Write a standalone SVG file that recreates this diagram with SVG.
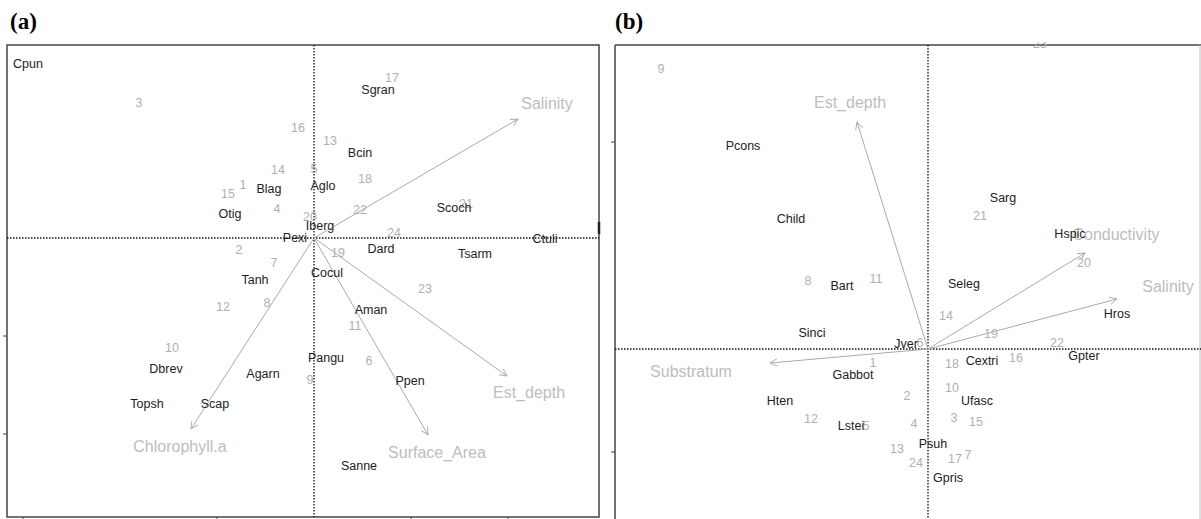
<svg xmlns="http://www.w3.org/2000/svg" width="1201" height="519" viewBox="0 0 1201 519">
<style>
.sp{font-family:"Liberation Sans",Arial,sans-serif;font-size:12.5px;fill:#222;text-anchor:middle}
.st{font-family:"Liberation Sans",Arial,sans-serif;font-size:12.5px;fill:#b0b0b0;text-anchor:middle}
.vr{font-family:"Liberation Sans",Arial,sans-serif;font-size:16px;fill:#bdbdbd;text-anchor:middle}
.pl{font-family:"Liberation Serif","Times New Roman",serif;font-size:23px;font-weight:bold;fill:#000}
.frame{fill:none;stroke:#444;stroke-width:1.5}
.dot{stroke:#111;stroke-width:1.3;stroke-dasharray:1.5 1.5;fill:none}
.arr{stroke:#aaa;stroke-width:1;fill:none;marker-end:url(#ah)}
.tick{stroke:#444;stroke-width:1}
</style>
<defs>
<marker id="ah" viewBox="0 0 10 10" refX="9" refY="5" markerWidth="9" markerHeight="9" markerUnits="userSpaceOnUse" orient="auto">
<path d="M1,1 L9,5 L1,9" fill="none" stroke="#aaa" stroke-width="1"/>
</marker>
<clipPath id="cb"><rect x="615" y="42" width="586" height="477"/></clipPath>
</defs>
<rect width="1201" height="519" fill="#fff"/>

<text class="pl" x="10" y="29">(a)</text>
<text class="pl" x="615" y="29">(b)</text>

<!-- Panel a frame & axes -->
<g id="frame-a">
<rect class="frame" x="7" y="45" width="592" height="472"/>
<line class="dot" x1="314" y1="45" x2="314" y2="517"/>
<line class="dot" x1="7" y1="238" x2="599" y2="238"/>
<line class="tick" x1="3" y1="336" x2="7" y2="336"/>
<line class="tick" x1="3" y1="434" x2="7" y2="434"/>
<line class="tick" x1="23" y1="517" x2="23" y2="519"/>
<line class="tick" x1="217" y1="517" x2="217" y2="519"/>
<line class="tick" x1="411" y1="517" x2="411" y2="519"/>
<line class="tick" x1="508" y1="517" x2="508" y2="519"/>
<line x1="599" y1="222" x2="599" y2="234" stroke="#222" stroke-width="2.5"/>
</g>

<!-- Panel b frame & axes -->
<g id="frame-b">
<line class="frame" x1="615" y1="45" x2="1201" y2="45"/>
<line class="frame" x1="615" y1="45" x2="615" y2="519"/>
<line x1="1200" y1="45" x2="1200" y2="519" stroke="#bbb" stroke-width="1"/>
<line class="dot" x1="928" y1="45" x2="928" y2="519"/>
<line class="dot" x1="615" y1="349" x2="1201" y2="349"/>
<line class="tick" x1="611" y1="142" x2="615" y2="142"/>
<line class="tick" x1="611" y1="452" x2="615" y2="452"/>
</g>

<g id="connectors">
<line class="arr" x1="314" y1="238" x2="518" y2="119"/>
<line class="arr" x1="314" y1="238" x2="507" y2="376"/>
<line class="arr" x1="314" y1="238" x2="428" y2="435"/>
<line class="arr" x1="314" y1="238" x2="191" y2="429"/>
<line class="arr" x1="928" y1="349" x2="857" y2="122"/>
<line class="arr" x1="928" y1="349" x2="1085" y2="253"/>
<line class="arr" x1="928" y1="349" x2="1117" y2="299"/>
<line class="arr" x1="928" y1="349" x2="770" y2="363"/>
</g>

<!-- Panel a variables -->
<g id="a-var-salinity"><text class="vr" x="547" y="109">Salinity</text></g>
<g id="a-var-estdepth"><text class="vr" x="529" y="398">Est_depth</text></g>
<g id="a-var-surface"><text class="vr" x="437" y="458">Surface_Area</text></g>
<g id="a-var-chl"><text class="vr" x="180" y="452">Chlorophyll.a</text></g>

<!-- Panel a sites -->
<g id="a-s3"><text class="st" x="139" y="107">3</text></g>
<g id="a-s16"><text class="st" x="298" y="132">16</text></g>
<g id="a-s14"><text class="st" x="278" y="174">14</text></g>
<g id="a-s5"><text class="st" x="314" y="173">5</text></g>
<g id="a-s17"><text class="st" x="392" y="82">17</text></g>
<g id="a-s13"><text class="st" x="330" y="145">13</text></g>
<g id="a-s18"><text class="st" x="365" y="183">18</text></g>
<g id="a-s1"><text class="st" x="243" y="189">1</text></g>
<g id="a-s15"><text class="st" x="228" y="198">15</text></g>
<g id="a-s4"><text class="st" x="277" y="213">4</text></g>
<g id="a-s22"><text class="st" x="360" y="214">22</text></g>
<g id="a-s21"><text class="st" x="466" y="208">21</text></g>
<g id="a-s20"><text class="st" x="310" y="221">20</text></g>
<g id="a-s24"><text class="st" x="394" y="237">24</text></g>
<g id="a-s2"><text class="st" x="239" y="254">2</text></g>
<g id="a-s19"><text class="st" x="338" y="257">19</text></g>
<g id="a-s7"><text class="st" x="274" y="267">7</text></g>
<g id="a-s23"><text class="st" x="425" y="293">23</text></g>
<g id="a-s8"><text class="st" x="267" y="307">8</text></g>
<g id="a-s12"><text class="st" x="223" y="311">12</text></g>
<g id="a-s11"><text class="st" x="355" y="330">11</text></g>
<g id="a-s10"><text class="st" x="172" y="352">10</text></g>
<g id="a-s6"><text class="st" x="369" y="365">6</text></g>
<g id="a-s9"><text class="st" x="310" y="384">9</text></g>

<!-- Panel a species -->
<g id="a-cpun"><text class="sp" x="28" y="68">Cpun</text></g>
<g id="a-sgran"><text class="sp" x="378" y="94">Sgran</text></g>
<g id="a-bcin"><text class="sp" x="360" y="157">Bcin</text></g>
<g id="a-blag"><text class="sp" x="269" y="193">Blag</text></g>
<g id="a-aglo"><text class="sp" x="323" y="190">Aglo</text></g>
<g id="a-otig"><text class="sp" x="230" y="218">Otig</text></g>
<g id="a-scoch"><text class="sp" x="454" y="212">Scoch</text></g>
<g id="a-iberg"><text class="sp" x="320" y="230">Iberg</text></g>
<g id="a-pexi"><text class="sp" x="295" y="242">Pexi</text></g>
<g id="a-ctuli"><text class="sp" x="545" y="243">Ctuli</text></g>
<g id="a-dard"><text class="sp" x="381" y="253">Dard</text></g>
<g id="a-tsarm"><text class="sp" x="475" y="258">Tsarm</text></g>
<g id="a-cocul"><text class="sp" x="327" y="277">Cocul</text></g>
<g id="a-tanh"><text class="sp" x="255" y="284">Tanh</text></g>
<g id="a-aman"><text class="sp" x="371" y="314">Aman</text></g>
<g id="a-pangu"><text class="sp" x="326" y="362">Pangu</text></g>
<g id="a-dbrev"><text class="sp" x="166" y="373">Dbrev</text></g>
<g id="a-agarn"><text class="sp" x="263" y="378">Agarn</text></g>
<g id="a-ppen"><text class="sp" x="410" y="385">Ppen</text></g>
<g id="a-topsh"><text class="sp" x="147" y="408">Topsh</text></g>
<g id="a-scap"><text class="sp" x="215" y="408">Scap</text></g>
<g id="a-sanne"><text class="sp" x="359" y="470">Sanne</text></g>

<!-- Panel b variables -->
<g id="b-var-estdepth"><text class="vr" x="850" y="108">Est_depth</text></g>
<g id="b-var-conductivity"><text class="vr" x="1116" y="240">Conductivity</text></g>
<g id="b-var-salinity"><text class="vr" x="1168" y="292">Salinity</text></g>
<g id="b-var-substratum"><text class="vr" x="691" y="377">Substratum</text></g>

<!-- Panel b sites -->
<g id="b-s23" clip-path="url(#cb)"><text class="st" x="1040" y="48">23</text></g>
<g id="b-s9"><text class="st" x="661" y="73">9</text></g>
<g id="b-s21"><text class="st" x="980" y="220">21</text></g>
<g id="b-s20"><text class="st" x="1084" y="267">20</text></g>
<g id="b-s8"><text class="st" x="808" y="285">8</text></g>
<g id="b-s11"><text class="st" x="876" y="283">11</text></g>
<g id="b-s14"><text class="st" x="946" y="320">14</text></g>
<g id="b-s19"><text class="st" x="991" y="338">19</text></g>
<g id="b-s22"><text class="st" x="1057" y="347">22</text></g>
<g id="b-s6"><text class="st" x="920" y="347">6</text></g>
<g id="b-s16"><text class="st" x="1016" y="362">16</text></g>
<g id="b-s1"><text class="st" x="873" y="367">1</text></g>
<g id="b-s18"><text class="st" x="952" y="368">18</text></g>
<g id="b-s10"><text class="st" x="952" y="392">10</text></g>
<g id="b-s2"><text class="st" x="907" y="400">2</text></g>
<g id="b-s3"><text class="st" x="954" y="422">3</text></g>
<g id="b-s15"><text class="st" x="976" y="426">15</text></g>
<g id="b-s12"><text class="st" x="811" y="423">12</text></g>
<g id="b-s4"><text class="st" x="914" y="428">4</text></g>
<g id="b-s5"><text class="st" x="866" y="430">5</text></g>
<g id="b-s13"><text class="st" x="897" y="453">13</text></g>
<g id="b-s7"><text class="st" x="968" y="459">7</text></g>
<g id="b-s17"><text class="st" x="955" y="463">17</text></g>
<g id="b-s24"><text class="st" x="916" y="467">24</text></g>

<!-- Panel b species -->
<g id="b-pcons"><text class="sp" x="743" y="150">Pcons</text></g>
<g id="b-sarg"><text class="sp" x="1003" y="202">Sarg</text></g>
<g id="b-child"><text class="sp" x="791" y="223">Child</text></g>
<g id="b-hspic"><text class="sp" x="1070" y="238">Hspic</text></g>
<g id="b-seleg"><text class="sp" x="964" y="288">Seleg</text></g>
<g id="b-bart"><text class="sp" x="842" y="290">Bart</text></g>
<g id="b-hros"><text class="sp" x="1117" y="318">Hros</text></g>
<g id="b-sinci"><text class="sp" x="812" y="337">Sinci</text></g>
<g id="b-jver"><text class="sp" x="906" y="348">Jver</text></g>
<g id="b-gpter"><text class="sp" x="1084" y="360">Gpter</text></g>
<g id="b-cextri"><text class="sp" x="982" y="365">Cextri</text></g>
<g id="b-gabbot"><text class="sp" x="853" y="379">Gabbot</text></g>
<g id="b-ufasc"><text class="sp" x="977" y="405">Ufasc</text></g>
<g id="b-hten"><text class="sp" x="780" y="405">Hten</text></g>
<g id="b-lstei"><text class="sp" x="851" y="430">Lstei</text></g>
<g id="b-psuh"><text class="sp" x="933" y="448">Psuh</text></g>
<g id="b-gpris"><text class="sp" x="948" y="482">Gpris</text></g>
</svg>
